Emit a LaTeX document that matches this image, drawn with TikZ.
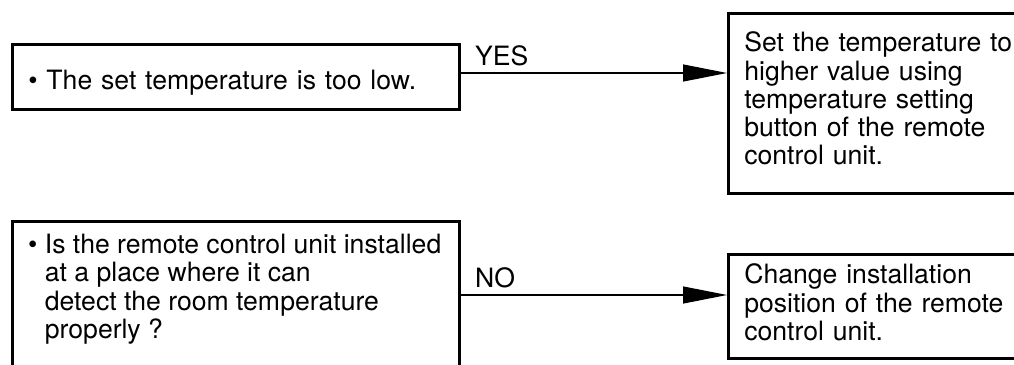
\documentclass[tikz,border=0pt]{standalone}
\usepackage{fontspec}
\setmainfont{TeX Gyre Heros}
\usetikzlibrary{arrows.meta, positioning, calc}

\begin{document}
\begin{tikzpicture}[x=1pt, y=-1pt,
    every node/.style={font=\fontsize{26.6}{28.3}\selectfont},
    box/.style={draw, line width=2.6pt, anchor=north west, inner xsep=16pt, inner ysep=0pt, align=left},
    flow/.style={-{Triangle[length=44pt, width=17pt]}, line width=1.2pt},
    answer/.style={anchor=base west, xshift=14pt, yshift=8pt, inner sep=0pt}]
    \useasboundingbox (0,0) rectangle (1014,364);
    \clip (0,0) rectangle (1014,364);

    % first check: the set temperature
    \node[box, text width=415pt, text height=25pt, text depth=0pt, minimum height=65pt] (low) at (11,43)
        {• The set temperature is too low.};
    \node[box, text width=340pt, text depth=123pt, minimum height=180pt] (raise) at (727,12)
        {Set the temperature to\\ higher value using\\ temperature setting\\ button of the remote\\ control unit.};

    % second check: where the remote control unit sits
    \node[box, minimum width=447pt, minimum height=170pt] (place) at (11,220) {};
    \node[anchor=north west, inner sep=0pt, align=left] (placetext) at (28,234)
        {• Is the remote control unit installed\\ \hphantom{•\ }at a place where it can\\
         \hphantom{•\ }detect the room temperature\\ \hphantom{•\ }properly ?};
    \node[box, text width=340pt, text depth=65pt, minimum height=104pt] (move) at (727,253)
        {Change installation\\ position of the remote\\ control unit.};

    % answers
    \coordinate (yeslevel) at (600,73);
    \coordinate (nolevel) at (600,295);
    \draw[flow] (low.east |- yeslevel) -- node[answer, pos=0] {YES} (yeslevel -| raise.west);
    \draw[flow] (place.east |- nolevel) -- node[answer, pos=0] {NO} (nolevel -| move.west);
\end{tikzpicture}
\end{document}
